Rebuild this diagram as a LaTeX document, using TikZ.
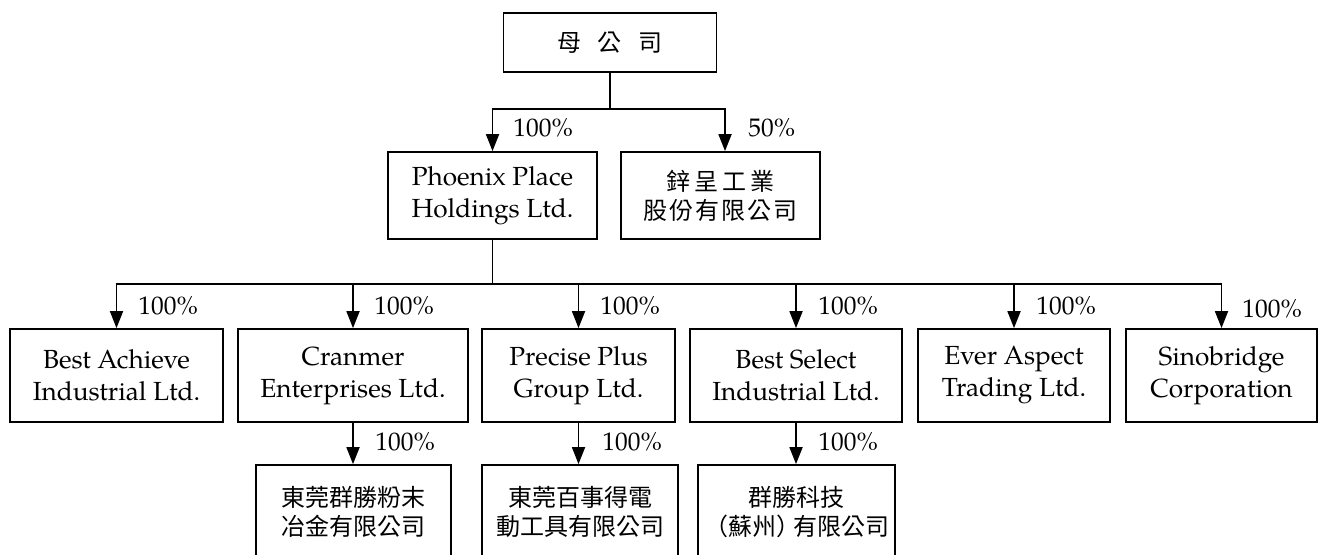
\documentclass[tikz,border=0pt]{standalone}
\usepackage{fontspec}
\setmainfont{TeX Gyre Pagella}
\newfontfamily\cjk{Noto Sans CJK TC}
\usetikzlibrary{arrows.meta}
\tikzset{
  box/.style={draw, line width=0.9pt, rectangle, inner sep=0pt, align=center,
    font=\fontsize{13.1}{16}\selectfont},
  cjkbox/.style={box, font=\cjk\fontsize{12}{14.5}\selectfont},
  conn/.style={line width=0.9pt},
  arr/.style={conn, -{Triangle[width=6.5pt,length=8.5pt]}},
  pct/.style={anchor=west, inner sep=0pt, font=\fontsize{12.7}{15}\selectfont}
}
\begin{document}
\begin{tikzpicture}[x=0.5pt,y=-0.5pt]
\clip (0,0) rectangle (1323,554);
\fill[white] (0,0) rectangle (1323,554);
% level 0
\node[cjkbox, minimum width=106.5pt, minimum height=29.5pt] (top) at (610,42.5) {母\kern8.5pt公\kern8.5pt司};
% level 1
\node[box, minimum width=104.5pt, minimum height=43.5pt] (phoenix) at (492.5,195.5) {Phoenix Place\\Holdings Ltd.};
\node[cjkbox, minimum width=99.5pt, minimum height=43.5pt] (xin) at (720.5,195.5) {鋅\kern2pt呈\kern2pt工\kern2pt業\\股\kern1pt份\kern1pt有\kern1pt限\kern1pt公\kern1pt司};
% level 2
\node[box, minimum width=106.5pt, minimum height=46.5pt] (bestach) at (116.5,375.5) {Best Achieve\\Industrial Ltd.};
\node[box, minimum width=115pt, minimum height=46.5pt] (cranmer) at (353,375.5) {Cranmer\\Enterprises Ltd.};
\node[box, minimum width=96.5pt, minimum height=46.5pt] (precise) at (578.5,375.5) {Precise Plus\\Group Ltd.};
\node[box, minimum width=106pt, minimum height=46.5pt] (bestsel) at (796,375.5) {Best Select\\Industrial Ltd.};
\node[box, minimum width=96pt, minimum height=46.5pt] (ever) at (1014,375.5) {Ever Aspect\\Trading Ltd.};
\node[box, minimum width=95.5pt, minimum height=46.5pt] (sino) at (1221.5,375.5) {Sinobridge\\Corporation};
% level 3
\node[cjkbox, minimum width=97.5pt, minimum height=47pt] (dg1) at (353.5,512) {東莞群勝粉末\\冶金有限公司};
\node[cjkbox, minimum width=98pt, minimum height=47pt] (dg2) at (580,512) {東莞百事得電\\動工具有限公司};
\node[cjkbox, minimum width=98.5pt, minimum height=47pt] (dg3) at (796.5,512) {群勝科技\\（蘇州）\kern-3.5pt有限公司};
% connectors level 0 -> 1
\coordinate (j0) at (610,109);
\coordinate (j0l) at (492.5,109);
\coordinate (j0r) at (725,109);
\draw[conn] (top.south) -- (j0);
\draw[conn] ([xshift=-0.45pt]j0l) -- ([xshift=0.45pt]j0r);
\draw[arr] (j0l) -- (j0l |- phoenix.north);
\draw[arr] (j0r) -- (j0r |- xin.north);
\node[pct] (p1) at (513,128) {100\%};
\node[pct] (p2) at (748,128) {50\%};
% connectors level 1 -> 2
\coordinate (j1) at (492.5,284);
\draw[conn] (phoenix.south) -- (j1);
\coordinate (j1a) at (116.5,284);
\coordinate (j1f) at (1221.5,284);
\draw[conn] ([xshift=-0.45pt]j1a) -- ([xshift=0.45pt]j1f);
\draw[arr] (bestach.north |- j1) -- (bestach.north);
\draw[arr] (cranmer.north |- j1) -- (cranmer.north);
\draw[arr] (precise.north |- j1) -- (precise.north);
\draw[arr] (bestsel.north |- j1) -- (bestsel.north);
\draw[arr] (ever.north |- j1) -- (ever.north);
\draw[arr] (sino.north |- j1) -- (sino.north);
\node[pct] (q1) at (138,306) {100\%};
\node[pct] (q2) at (374,306) {100\%};
\node[pct] (q3) at (600,306) {100\%};
\node[pct] (q4) at (818,306) {100\%};
\node[pct] (q5) at (1036,306) {100\%};
\node[pct] (q6) at (1242,309) {100\%};
% connectors level 2 -> 3
\draw[arr] (cranmer.south) -- (cranmer.south |- dg1.north);
\draw[arr] (precise.south) -- (precise.south |- dg2.north);
\draw[arr] (bestsel.south) -- (bestsel.south |- dg3.north);
\node[pct] (r1) at (375,442) {100\%};
\node[pct] (r2) at (602,442) {100\%};
\node[pct] (r3) at (818,442) {100\%};
\end{tikzpicture}
\end{document}
